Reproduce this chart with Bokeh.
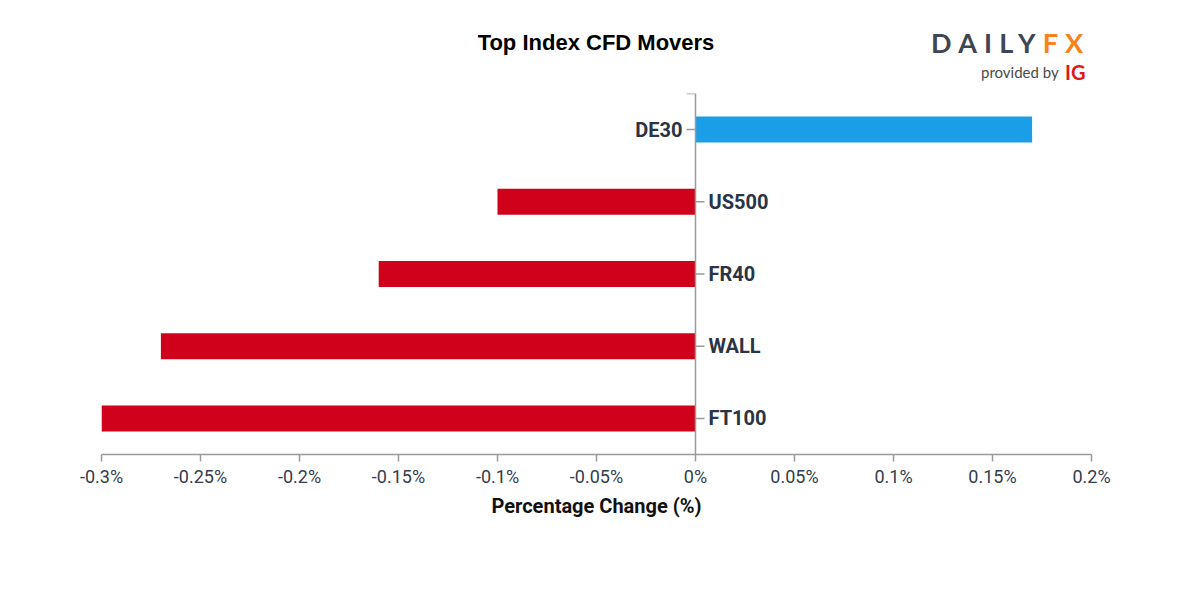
from bokeh.plotting import figure
from bokeh.layouts import column
from bokeh.models import (ColumnDataSource, Range1d, FactorRange, FixedTicker,
                          CustomJSTickFormatter, Span, Div)
from bokeh.transform import dodge
from bokeh.core.properties import value
from bokeh.embed import file_html
from bokeh.resources import INLINE

# ---- data ----
categories = ["DE30", "US500", "FR40", "WALL", "FT100"]
changes = [0.17, -0.10, -0.16, -0.27, -0.30]
x_ticks = [-0.3, -0.25, -0.2, -0.15, -0.1, -0.05, 0, 0.05, 0.1, 0.15, 0.2]
title_text = "Top Index CFD Movers"
x_label = "Percentage Change (%)"

POS = "#1a9ee8"
NEG = "#d0021b"
AXIS = "#9a9a9a"

src = ColumnDataSource(dict(
    cat=categories,
    val=changes,
    color=[POS if v >= 0 else NEG for v in changes],
    align=["right" if v >= 0 else "left" for v in changes],
    xoff=[-13 if v >= 0 else 13 for v in changes],
    ang=[3.141592653589793 if v >= 0 else 0.0 for v in changes],
))

W = 1184
HEAD_H = 80
FIG_H = 504
BL, BT, BR, BB = 101, 13, 93, 130

# ---- header (title + logo) ----
header_html = f"""
<div style="position:relative;width:{W}px;height:{HEAD_H}px;">
  <div style="position:absolute;left:396px;top:30px;width:400px;text-align:center;
       line-height:26px;font-family:'Liberation Sans',Arial,sans-serif;font-weight:bold;
       font-size:22px;color:#000;white-space:nowrap;">{title_text}</div>
  <div style="position:absolute;left:931px;top:27px;line-height:32.4px;
       font-family:Lato,sans-serif;font-weight:bold;font-size:27px;letter-spacing:7.2px;
       white-space:nowrap;"><span style="color:#3d4654;">DAILY</span><span style="color:#f7821b;">FX</span></div>
  <div style="position:absolute;left:981px;top:63px;line-height:18px;
       font-family:Lato,sans-serif;font-size:15px;color:#4a4a4a;white-space:nowrap;">provided by</div>
  <div style="position:absolute;left:1065px;top:60px;line-height:24px;
       font-family:Lato,sans-serif;font-weight:bold;font-size:20px;color:#e3161b;white-space:nowrap;">IG</div>
</div>
"""
header = Div(text=header_html, width=W, height=HEAD_H, margin=(0, 0, 0, 0))

p = figure(width=W, height=FIG_H, output_backend="svg", toolbar_location=None,
           x_range=Range1d(x_ticks[0], x_ticks[-1]),
           y_range=FactorRange(factors=list(reversed(categories)), range_padding=0),
           y_axis_location=None,
           min_border_left=BL, min_border_right=BR,
           min_border_top=BT, min_border_bottom=BB, margin=(0, 0, 0, 0))
p.outline_line_color = None
p.grid.visible = False
p.background_fill_color = "white"
p.border_fill_color = "white"

p.hbar(y="cat", left=0, right="val", height=0.36, fill_color="color",
       line_color=None, source=src)

# central vertical axis with tick marks on the side opposite to each bar
p.add_layout(Span(location=0, dimension="height", line_color=AXIS, line_width=1.5))
p.ray(x=0, y="cat", length=9, length_units="screen", angle="ang",
      line_color=AXIS, line_width=1.5, source=src)
# outer end tick at the top of the vertical axis
top_src = ColumnDataSource(dict(cat=[categories[0]]))
p.ray(x=0, y=dodge("cat", 0.5, range=p.y_range), length=9, length_units="screen",
      angle=3.141592653589793, line_color=AXIS, line_width=1.5, source=top_src)
p.text(x=0, y="cat", text="cat", text_align="align", x_offset="xoff",
       text_baseline="middle", text_font=value("Roboto"), text_font_style="bold",
       text_font_size="20px", text_color="#2a3446", source=src)

ax = p.xaxis[0]
ax.ticker = FixedTicker(ticks=x_ticks)
ax.formatter = CustomJSTickFormatter(code="return (Math.round(tick*1000)/1000) + '%';")
ax.axis_line_color = AXIS
ax.axis_line_width = 1.5
ax.major_tick_line_color = AXIS
ax.major_tick_line_width = 1.5
ax.major_tick_out = 7
ax.major_tick_in = 0
ax.minor_tick_line_color = None
ax.major_label_text_font = "Roboto"
ax.major_label_text_font_size = "18px"
ax.major_label_text_color = "#333d4d"
ax.major_label_standoff = 4
ax.axis_label = x_label
ax.axis_label_text_font = "Roboto"
ax.axis_label_text_font_style = "bold"
ax.axis_label_text_font_size = "20px"
ax.axis_label_text_color = "#111111"
ax.axis_label_standoff = 4

layout = column(header, p, spacing=0)
open("out.html", "w").write(file_html(layout, INLINE))
